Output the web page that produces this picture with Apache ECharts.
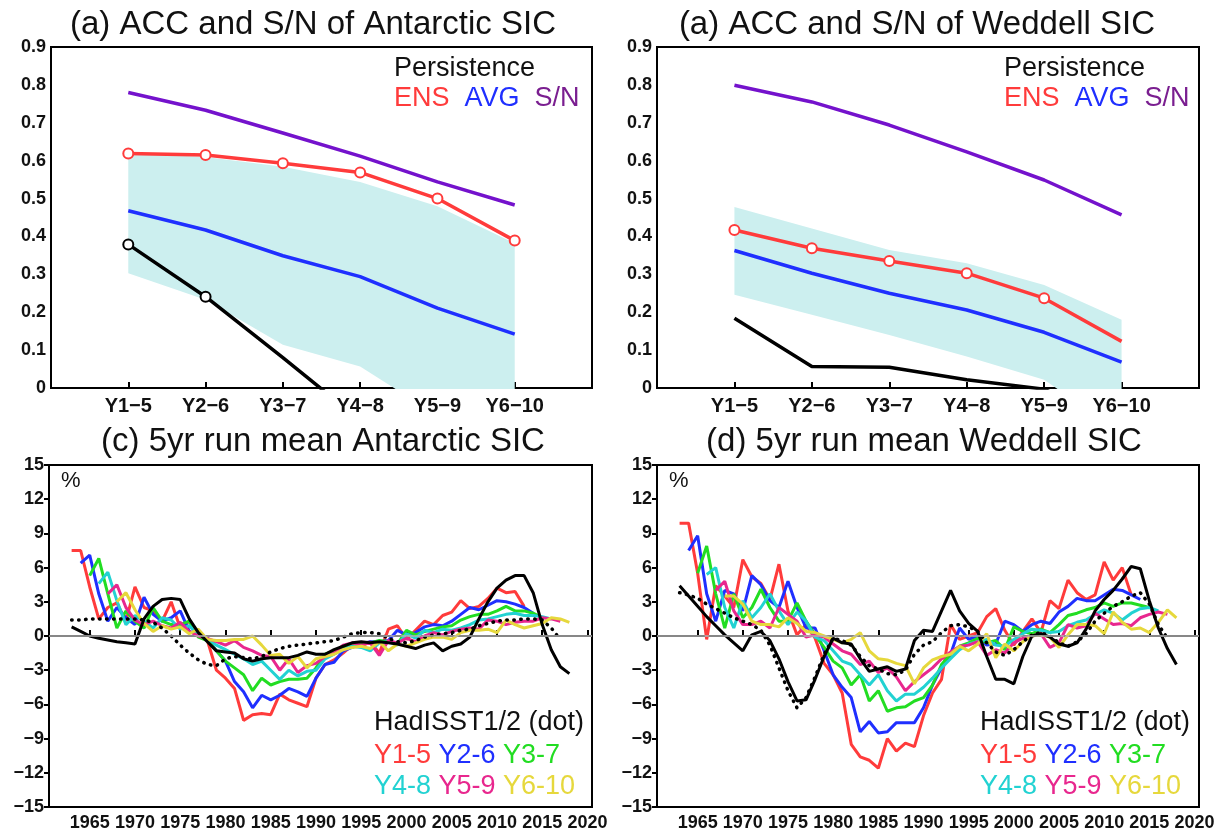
<!DOCTYPE html>
<html>
<head>
<meta charset="utf-8">
<script src="https://cdn.jsdelivr.net/npm/echarts@6/dist/echarts.min.js"></script>
<style>
html, body { margin: 0; padding: 0; background: #fff; }
#chart { width: 1221px; height: 832px; }
</style>
</head>
<body>
<div id="chart"></div>
<script>
const FONT = '"Liberation Sans", Arial, Helvetica, sans-serif';

// ---- top panels: skill by lead window ----
const leadCats = ['Y1\u22125', 'Y2\u22126', 'Y3\u22127', 'Y4\u22128', 'Y5\u22129', 'Y6\u221210'];

const antEns = [0.619, 0.615, 0.593, 0.569, 0.500, 0.389];
const antAvg = [0.468, 0.417, 0.349, 0.294, 0.211, 0.142];
const antSn = [0.780, 0.733, 0.673, 0.612, 0.544, 0.483];
const antPers = [0.379, 0.241, 0.080, -0.085, -0.25, -0.4];
const antBandLo = [0.303, 0.233, 0.114, 0.057, -0.073, -0.2];
const antBandHi = [0.620, 0.610, 0.584, 0.544, 0.480, 0.382];

const wedEns = [0.417, 0.369, 0.335, 0.303, 0.237, 0.123];
const wedAvg = [0.363, 0.303, 0.250, 0.206, 0.147, 0.068];
const wedSn = [0.799, 0.755, 0.694, 0.623, 0.549, 0.457];
const wedPers = [0.184, 0.057, 0.055, 0.022, -0.003, -0.1];
const wedBandLo = [0.246, 0.193, 0.140, 0.083, 0.022, -0.12];
const wedBandHi = [0.478, 0.421, 0.364, 0.329, 0.272, 0.180];

// ---- bottom panels: 5yr running means (%) ----
const leadNames = ['Y1-5', 'Y2-6', 'Y3-7', 'Y4-8', 'Y5-9', 'Y6-10'];
const leadStart = [1963, 1964, 1965, 1966, 1967, 1968];
const obsStart = 1963;
const yearTicks = [1965, 1970, 1975, 1980, 1985, 1990, 1995, 2000, 2005, 2010, 2015, 2020];

const antY15 = [7.5, 7.5, 4.3, 1.5, 2.5, 2.9, 1.3, 4.3, 2.5, 2.2,
  1.3, 3.0, 0.7, 1.3, 0.1, -0.4, -3.0, -3.7, -4.6, -7.4,
  -6.9, -6.8, -6.9, -5.1, -5.6, -5.9, -6.2, -3.7, -2.5, -2.1,
  -1.5, -0.8, -0.9, -0.5, -1.5, 0.6, 0.9, -0.3, 0.5, 1.3,
  1.0, 1.8, 2.1, 3.1, 2.4, 2.6, 3.3, 4.2, 3.8, 3.9, 2.6];
const antY26 = [6.4, 7.1, 3.7, 1.3, 2.5, 1.6, 1.0, 3.4, 1.9, 1.3,
  1.6, 2.2, 0.4, 0.1, -0.2, -1.3, -2.2, -4.0, -4.9, -6.3,
  -5.2, -5.6, -5.2, -4.6, -4.9, -5.3, -3.7, -2.5, -2.3, -1.3,
  -1.0, -0.7, -0.5, -0.5, -0.4, 0.5, 0.1, 0.3, 0.8, 1.0,
  0.9, 1.3, 1.9, 2.5, 2.3, 2.7, 3.1, 3.0, 2.8, 2.5, 2.0];
const antY37 = [5.3, 6.8, 3.7, 0.7, 2.2, 1.3, 0.7, 2.5, 1.3, 1.0,
  1.0, 1.3, -0.1, -0.4, -1.3, -2.2, -2.8, -3.4, -4.8, -3.7,
  -4.3, -4.0, -3.8, -3.8, -3.7, -2.8, -1.6, -1.3, -1.0, -0.9,
  -0.7, -0.6, -0.4, -0.5, -0.7, 0.5, 0.1, 0.4, 0.6, 0.8,
  0.9, 1.4, 1.7, 1.9, 1.9, 2.2, 2.6, 2.2, 2.2, 2.0, 1.6];
const antY48 = [4.6, 5.6, 3.1, 1.0, 1.8, 1.3, 0.7, 1.6, 1.4, 0.6,
  0.9, 0.1, -0.2, -0.8, -1.2, -1.6, -2.0, -2.5, -2.2, -3.0,
  -3.8, -3.0, -3.5, -3.1, -3.0, -2.0, -1.6, -1.2, -0.9, -1.0,
  -1.3, -0.6, -0.5, -0.8, 0.2, -0.2, 0.5, 0.3, 0.6, 0.5,
  0.7, 1.0, 1.4, 1.5, 1.7, 1.9, 2.0, 1.8, 1.8, 1.7, 1.5];
const antY59 = [3.7, 4.5, 2.5, 1.4, 1.0, 1.3, 0.9, 0.7, 1.2, 0.4,
  0.0, -0.2, -0.5, -0.8, -0.4, -1.0, -1.3, -1.7, -1.8, -3.0,
  -2.0, -3.2, -2.6, -2.4, -1.8, -1.5, -0.8, -0.6, -0.8, -0.6,
  -1.7, -0.4, -0.6, -0.2, -0.5, 0.0, 0.3, 0.1, 0.4, 0.6,
  0.7, 0.6, 1.4, 1.3, 1.0, 1.2, 1.3, 1.3, 1.6, 1.5, 1.3];
const antY610 = [3.0, 3.8, 2.3, 1.1, 0.4, 0.9, 0.6, 0.8, 0.2, 0.6,
  -0.3, -0.4, -0.4, -0.3, -0.3, 0.0, -0.8, -1.7, -1.6, -2.4,
  -1.8, -2.8, -2.0, -1.8, -1.6, -1.2, -1.0, -0.9, -1.1, -0.5,
  -1.3, -0.7, -0.9, -0.6, -0.3, -0.1, -0.1, -0.3, 0.3, 0.5,
  0.5, 0.6, 0.3, 1.4, 1.0, 0.7, 0.9, 1.1, 1.6, 1.5, 1.2];
const antObs = [0.8, 0.4, 0.0, -0.2, -0.35, -0.5, -0.6, -0.7, 1.5, 2.6,
  3.2, 3.3, 3.2, 1.5, 0.3, -0.5, -1.3, -1.4, -1.5, -2.0,
  -2.2, -2.0, -1.9, -1.9, -1.9, -1.7, -1.4, -1.6, -1.6, -1.2,
  -0.9, -0.6, -0.5, -0.6, -0.5, -0.6, -0.7, -0.9, -1.1, -0.8,
  -0.6, -1.3, -0.9, -0.7, -0.1, 1.5, 3.0, 4.2, 4.9, 5.3,
  5.3, 3.8, 1.0, -1.2, -2.7, -3.3];
const antHad = [1.4, 1.4, 1.5, 1.5, 1.5, 1.5, 1.5, 1.5, 1.4, 1.2,
  0.7, 0.0, -0.8, -1.5, -2.1, -2.5, -2.6, -2.0, -1.8, -1.9,
  -2.0, -1.8, -1.4, -1.1, -0.9, -0.8, -0.7, -0.6, -0.5, -0.4,
  -0.1, 0.2, 0.3, 0.3, 0.2, -0.2, -0.5, -0.6, -0.4, -0.1,
  0.1, 0.2, 0.3, 0.5, 0.6, 0.9, 1.1, 1.3, 1.4, 1.4,
  1.5, 1.5, 1.4, 0.7, -0.3];

const wedY15 = [9.9, 9.9, 5.5, -0.3, 4.4, 3.5, 2.5, 6.7, 5.2, 4.6,
  3.2, 6.3, 2.2, 0.1, 1.0, -0.2, -2.4, -3.4, -5.0, -9.5,
  -10.6, -10.9, -11.6, -9.0, -10.1, -9.4, -9.7, -7.0, -5.0, -3.8,
  1.0, -0.3, 0.0, 0.3, 1.7, 2.4, 0.5, -0.8, 0.4, 1.5,
  0.3, 3.1, 2.4, 4.9, 3.8, 3.2, 3.6, 6.5, 4.9, 6.0, 3.6];
const wedY26 = [7.5, 8.8, 3.7, 1.3, 4.0, 3.7, 2.2, 5.3, 4.5, 3.1,
  2.5, 4.8, 2.5, 0.7, 0.7, -1.3, -3.4, -4.5, -5.4, -8.4,
  -7.5, -8.5, -8.4, -7.6, -7.6, -7.6, -6.3, -4.3, -2.8, -1.6,
  0.7, -0.3, 0.0, -0.8, -0.7, 1.3, 1.0, 0.4, 1.0, 1.3,
  1.1, 2.1, 2.6, 3.3, 3.1, 3.1, 3.6, 4.1, 4.0, 3.6, 3.2];
const wedY37 = [5.5, 7.9, 3.7, 0.7, 3.7, 1.6, 2.5, 4.1, 2.5, 1.3,
  1.3, 2.9, 1.3, 0.1, -1.0, -2.2, -2.8, -4.3, -3.4, -5.7,
  -4.8, -6.6, -6.3, -6.2, -5.7, -5.4, -4.3, -2.5, -1.6, -0.9,
  -0.6, -0.2, -0.6, -0.4, -1.2, 0.8, 0.4, 0.2, 0.6, 0.3,
  1.0, 1.8, 2.0, 2.3, 2.5, 2.9, 2.6, 2.9, 2.9, 2.7, 2.5];
const wedY48 = [5.4, 6.0, 2.5, 0.7, 3.1, 1.6, 2.5, 3.7, 2.2, 1.0,
  2.1, 1.3, -0.1, -0.4, -1.3, -2.2, -2.5, -3.4, -4.3, -3.4,
  -4.8, -5.7, -5.1, -5.1, -4.5, -3.7, -2.8, -2.0, -1.2, -0.7,
  -0.5, -0.3, -0.8, -0.9, -0.3, 0.2, 0.6, 0.5, 0.3, 0.4,
  0.9, 1.2, 1.4, 1.9, 2.3, 2.0, 1.4, 2.0, 2.4, 2.5, 2.2];
const wedY59 = [4.0, 4.8, 2.2, 1.0, 1.0, 1.3, 0.7, 2.5, 1.9, 1.3,
  -0.1, 0.1, -0.1, -0.7, -1.3, -1.6, -2.5, -2.2, -3.2, -2.8,
  -3.6, -4.8, -4.0, -3.4, -2.8, -2.0, -1.4, -0.9, -0.8, -0.5,
  -1.7, -1.2, -1.5, -0.6, -0.2, 0.0, 0.2, -1.0, -0.6, 1.0,
  0.7, 0.9, 2.0, 1.5, 1.0, 1.1, 0.9, 1.6, 1.9, 2.1, 1.9];
const wedY610 = [3.5, 3.5, 2.8, 1.3, 1.0, 1.0, 0.8, 1.6, 1.1, 0.4,
  0.3, 0.0, -0.3, -0.6, -0.3, 0.3, -1.3, -2.0, -2.1, -2.4,
  -2.6, -4.2, -2.8, -2.1, -1.8, -1.6, -0.9, -1.3, -0.7, 0.2,
  -1.9, -0.7, -1.3, -0.5, 0.0, 0.1, -0.1, -1.0, 0.1, 1.0,
  1.0, 0.9, 0.2, 2.1, 1.2, 0.6, 0.7, 0.3, 1.2, 2.3, 1.6];
const wedObs = [4.4, 3.5, 2.6, 1.7, 0.9, 0.1, -0.6, -1.3, 0.1, 0.4,
  -0.4, -2.0, -4.0, -5.7, -5.6, -3.8, -1.8, -0.2, -0.6, -0.7,
  -2.0, -3.1, -2.9, -2.7, -3.1, -2.9, -0.4, 0.5, 0.4, 2.2,
  4.0, 2.2, 1.1, 0.4, -1.8, -3.8, -3.8, -4.2, -1.8, 0.0,
  0.2, -0.1, -0.7, -0.9, -0.6, 0.6, 2.2, 3.2, 4.0, 5.0,
  6.1, 5.9, 3.1, 0.7, -1.1, -2.5];
const wedHad = [3.8, 3.6, 3.3, 2.8, 2.4, 2.0, 1.6, 1.3, 1.0, 0.5,
  -0.8, -2.8, -4.8, -6.3, -5.4, -3.6, -1.6, -0.2, -0.4, -0.8,
  -1.8, -2.6, -2.9, -3.3, -3.4, -3.0, -1.6, -0.8, -0.5, 0.3,
  0.9, 1.0, 0.8, 0.4, -0.6, -1.4, -1.7, -1.2, -0.5, 0.1,
  0.3, 0.0, -0.6, -0.9, -0.5, 0.2, 1.3, 2.0, 2.6, 3.0,
  3.5, 3.8, 2.8, 1.0, -0.2];

const antLeads = [antY15, antY26, antY37, antY48, antY59, antY610];
const wedLeads = [wedY15, wedY26, wedY37, wedY48, wedY59, wedY610];

const leadColors = ['#ff3b3b', '#1f2fff', '#22dd22', '#22d2d2', '#e8278e', '#e6d83c'];
const ensColor = '#ff3b3b', avgColor = '#1f2fff', snColor = '#7412cc', bandColor = '#ccefef';

const grids = [
  { left: 51, top: 47, width: 541, height: 341 },
  { left: 657, top: 47, width: 542, height: 341 },
  { left: 49, top: 465, width: 543, height: 342 },
  { left: 657, top: 465, width: 542, height: 342 }
].map(g => Object.assign(g, { show: true, borderColor: '#000', borderWidth: 2, backgroundColor: 'transparent' }));

const axisLine = { lineStyle: { color: '#000', width: 2 } };
const labelStyle = { color: '#111', fontSize: 18, fontWeight: 'bold', fontFamily: FONT };

const xAxes = [0, 1].map(gi => ({
  type: 'category', gridIndex: gi, boundaryGap: false,
  data: [''].concat(leadCats, ['']),
  axisLine: axisLine,
  axisTick: { inside: true, length: 6, interval: 0, lineStyle: { color: '#000', width: 2 } },
  axisLabel: Object.assign({}, labelStyle, { interval: 0, margin: 8, fontSize: 20 }),
  splitLine: { show: false }
})).concat([2, 3].map(gi => ({
  type: 'value', gridIndex: gi, min: 1960.5, max: 2020.5,
  axisLine: axisLine,
  axisTick: { inside: true, length: 6, customValues: yearTicks, lineStyle: { color: '#000', width: 2 } },
  axisLabel: Object.assign({ customValues: yearTicks, margin: 7, formatter: v => String(v) }, labelStyle),
  splitLine: { show: false }
})));

const yAxes = [0, 1].map(gi => ({
  type: 'value', gridIndex: gi, min: 0, max: 0.9, interval: 0.1,
  axisLine: Object.assign({ show: true }, axisLine),
  axisTick: { length: 5, lineStyle: { color: '#000', width: 2 } },
  axisLabel: Object.assign({ margin: 5, formatter: v => v === 0 ? '0' : v.toFixed(1) }, labelStyle),
  splitLine: { show: false }
})).concat([2, 3].map(gi => ({
  type: 'value', gridIndex: gi, min: -15, max: 15, interval: 3,
  axisLine: Object.assign({ show: true }, axisLine),
  axisTick: { length: 5, lineStyle: { color: '#000', width: 2 } },
  axisLabel: Object.assign({ margin: 5, formatter: v => v < 0 ? '\u2212' + (-v) : String(v) }, labelStyle),
  splitLine: { show: false }
})));

function pad(a) { return [null].concat(a, [null]); }

function topSeries(gi, ens, avg, sn, pers, lo, hi, ensMarks, persMarks) {
  const base = { type: 'line', xAxisIndex: gi, yAxisIndex: gi, silent: true };
  const marked = n => (v, p) => (p.dataIndex >= 1 && p.dataIndex <= n) ? 'emptyCircle' : 'none';
  return [
    Object.assign({}, base, { stack: 'band' + gi, stackStrategy: 'all', data: pad(lo), symbol: 'none', lineStyle: { opacity: 0 } }),
    Object.assign({}, base, { stack: 'band' + gi, stackStrategy: 'all', data: pad(hi.map((h, i) => +(h - lo[i]).toFixed(3))), symbol: 'none', lineStyle: { opacity: 0 }, areaStyle: { color: bandColor, opacity: 1 } }),
    Object.assign({}, base, { data: pad(pers), symbol: marked(persMarks), symbolSize: 10, itemStyle: { color: '#000', borderWidth: 2.5 }, lineStyle: { color: '#000', width: 3.5 } }),
    Object.assign({}, base, { data: pad(avg), symbol: 'none', lineStyle: { color: avgColor, width: 3.5 } }),
    Object.assign({}, base, { data: pad(sn), symbol: 'none', lineStyle: { color: snColor, width: 3.5 } }),
    Object.assign({}, base, { data: pad(ens), symbol: marked(ensMarks), symbolSize: 10, itemStyle: { color: ensColor, borderWidth: 2.5 }, lineStyle: { color: ensColor, width: 3.5 } })
  ];
}

function bottomSeries(gi, leads, obs, had) {
  const base = { type: 'line', xAxisIndex: gi, yAxisIndex: gi, symbol: 'none', silent: true };
  const out = leads.map((vals, j) => Object.assign({}, base, {
    name: leadNames[j],
    data: vals.map((v, i) => [leadStart[j] + i, v]),
    lineStyle: { color: leadColors[j], width: 3 }
  }));
  out[0].markLine = {
    silent: true, symbol: ['none', 'none'], label: { show: false },
    lineStyle: { color: '#b4b4b4', width: 1.5, type: 'solid' },
    data: [{ yAxis: 0 }]
  };
  out.push(Object.assign({}, base, { data: obs.map((v, i) => [obsStart + i, v]), lineStyle: { color: '#000', width: 3 } }));
  out.push(Object.assign({}, base, { data: had.map((v, i) => [obsStart + i, v]), lineStyle: { color: '#000', width: 3.5, type: [0.5, 6.5], cap: 'round' } }));
  return out;
}

function text(x, y, str, size, opts) {
  return {
    type: 'text', x: x, y: y, silent: true, z: 100,
    style: Object.assign({ text: str, fill: '#111', font: size + 'px ' + FONT, align: 'left', verticalAlign: 'middle' }, opts || {})
  };
}

function leadLegend(x, y, names, colors) {
  const rich = {};
  let str = '';
  names.forEach((n, i) => {
    rich['c' + i] = { fill: colors[i], font: '27px ' + FONT };
    str += (i ? ' ' : '') + '{c' + i + '|' + n + '}';
  });
  return text(x, y, str, 27, { rich: rich });
}

const skillRich = {
  r: { fill: ensColor, font: '27px ' + FONT },
  b: { fill: avgColor, font: '27px ' + FONT },
  p: { fill: '#7a1e90', font: '27px ' + FONT }
};

const graphics = [
  text(313, 25, '(a) ACC and S/N of Antarctic SIC', 33, { align: 'center' }),
  text(917, 25, '(a) ACC and S/N of Weddell SIC', 33, { align: 'center' }),
  text(323, 442, '(c) 5yr run mean Antarctic SIC', 33, { align: 'center' }),
  text(924, 442, '(d) 5yr run mean Weddell SIC', 33, { align: 'center' }),
  text(394, 69, 'Persistence', 27),
  text(1004, 69, 'Persistence', 27),
  text(394, 99, '{r|ENS}  {b|AVG}  {p|S/N}', 27, { rich: skillRich }),
  text(1004, 99, '{r|ENS}  {b|AVG}  {p|S/N}', 27, { rich: skillRich }),
  text(61, 481, '%', 22),
  text(669, 481, '%', 22),
  text(374, 723, 'HadISST1/2 (dot)', 27),
  text(980, 723, 'HadISST1/2 (dot)', 27),
  leadLegend(374, 756, leadNames.slice(0, 3), leadColors.slice(0, 3)),
  leadLegend(374, 787, leadNames.slice(3), leadColors.slice(3)),
  leadLegend(980, 756, leadNames.slice(0, 3), leadColors.slice(0, 3)),
  leadLegend(980, 787, leadNames.slice(3), leadColors.slice(3))
];

const chart = echarts.init(document.getElementById('chart'), null, { renderer: 'canvas' });
chart.setOption({
  backgroundColor: '#fff',
  animation: false,
  grid: grids,
  xAxis: xAxes,
  yAxis: yAxes,
  series: [].concat(
    topSeries(0, antEns, antAvg, antSn, antPers, antBandLo, antBandHi, 6, 2),
    topSeries(1, wedEns, wedAvg, wedSn, wedPers, wedBandLo, wedBandHi, 5, 0),
    bottomSeries(2, antLeads, antObs, antHad),
    bottomSeries(3, wedLeads, wedObs, wedHad)
  ),
  graphic: graphics
});
</script>
</body>
</html>
